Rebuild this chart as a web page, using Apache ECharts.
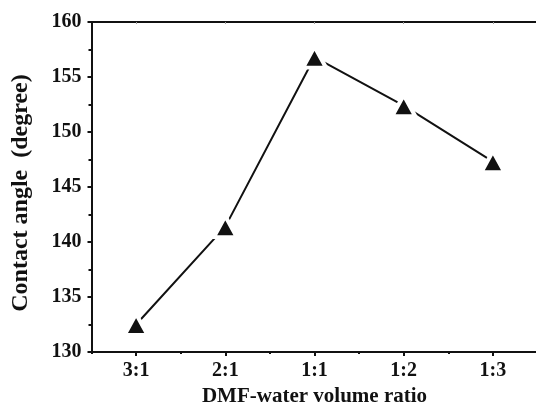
<!DOCTYPE html>
<html>
<head>
<meta charset="utf-8">
<script src="https://cdn.jsdelivr.net/npm/echarts@6/dist/echarts.min.js"></script>
<style>
html,body{margin:0;padding:0;background:#fff;}
#chart{width:536px;height:410px;}
</style>
</head>
<body>
<div id="chart"></div>
<script>
// data
var ratios = ['3:1', '2:1', '1:1', '1:2', '1:3'];
var contactAngle = [132.5, 141.4, 156.8, 152.4, 147.3];
var yTicks = [130, 135, 140, 145, 150, 155, 160];

var font = 'Liberation Serif, Times New Roman, serif';

var chart = echarts.init(document.getElementById('chart'));
var option = {
    animation: false,
    grid: {
        left: 91.5,
        right: -1.5,
        top: 22,
        bottom: 58,
        containLabel: false,
        outerBoundsMode: 'none'
    },
    xAxis: [
        {
            type: 'category',
            data: ratios,
            position: 'bottom',
            boundaryGap: true,
            name: 'DMF-water volume ratio',
            nameLocation: 'middle',
            nameGap: 34,
            nameTextStyle: { color: '#111', fontFamily: font, fontWeight: 'bold', fontSize: 21 },
            axisLine: { lineStyle: { color: '#111', width: 2 } },
            axisTick: { show: true, alignWithLabel: true, inside: false, length: 4, lineStyle: { color: '#111', width: 2 } },
            axisLabel: { color: '#111', fontFamily: font, fontWeight: 'bold', fontSize: 20, margin: 9 },
            splitLine: { show: false }
        },
        {
            // band boundary minor ticks
            type: 'category',
            data: ratios,
            position: 'bottom',
            boundaryGap: true,
            axisLine: { show: false },
            axisTick: { show: true, alignWithLabel: false, inside: false, length: 2, lineStyle: { color: '#111', width: 2 } },
            axisLabel: { show: false },
            splitLine: { show: false }
        },
        {
            type: 'category',
            data: ratios,
            position: 'top',
            boundaryGap: true,
            axisLine: { lineStyle: { color: '#111', width: 2 } },
            axisTick: { show: true, alignWithLabel: true, inside: true, length: 2, lineStyle: { color: '#999', width: 1 } },
            axisLabel: { show: false },
            splitLine: { show: false }
        }
    ],
    yAxis: {
        type: 'value',
        min: yTicks[0],
        max: yTicks[yTicks.length - 1],
        interval: 5,
        name: 'Contact angle  (degree)',
        nameLocation: 'middle',
        nameRotate: 90,
        nameGap: 59,
        nameTextStyle: { color: '#111', fontFamily: font, fontWeight: 'bold', fontSize: 24, padding: [0, 12, 0, 0] },
        axisLine: { show: true, lineStyle: { color: '#111', width: 2 } },
        axisTick: { show: true, inside: false, length: 4, lineStyle: { color: '#111', width: 2 } },
        minorTick: { show: true, splitNumber: 2, length: 3, lineStyle: { color: '#111', width: 2 } },
        axisLabel: { color: '#111', fontFamily: font, fontWeight: 'bold', fontSize: 20, margin: 10 },
        splitLine: { show: false }
    },
    series: [
        {
            type: 'line',
            data: contactAngle,
            xAxisIndex: 0,
            symbol: 'triangle',
            symbolSize: [23, 21],
            lineStyle: { color: '#111', width: 2 },
            itemStyle: { color: '#111', borderColor: '#fff', borderWidth: 4 }
        }
    ]
};
chart.setOption(option);
</script>
</body>
</html>
